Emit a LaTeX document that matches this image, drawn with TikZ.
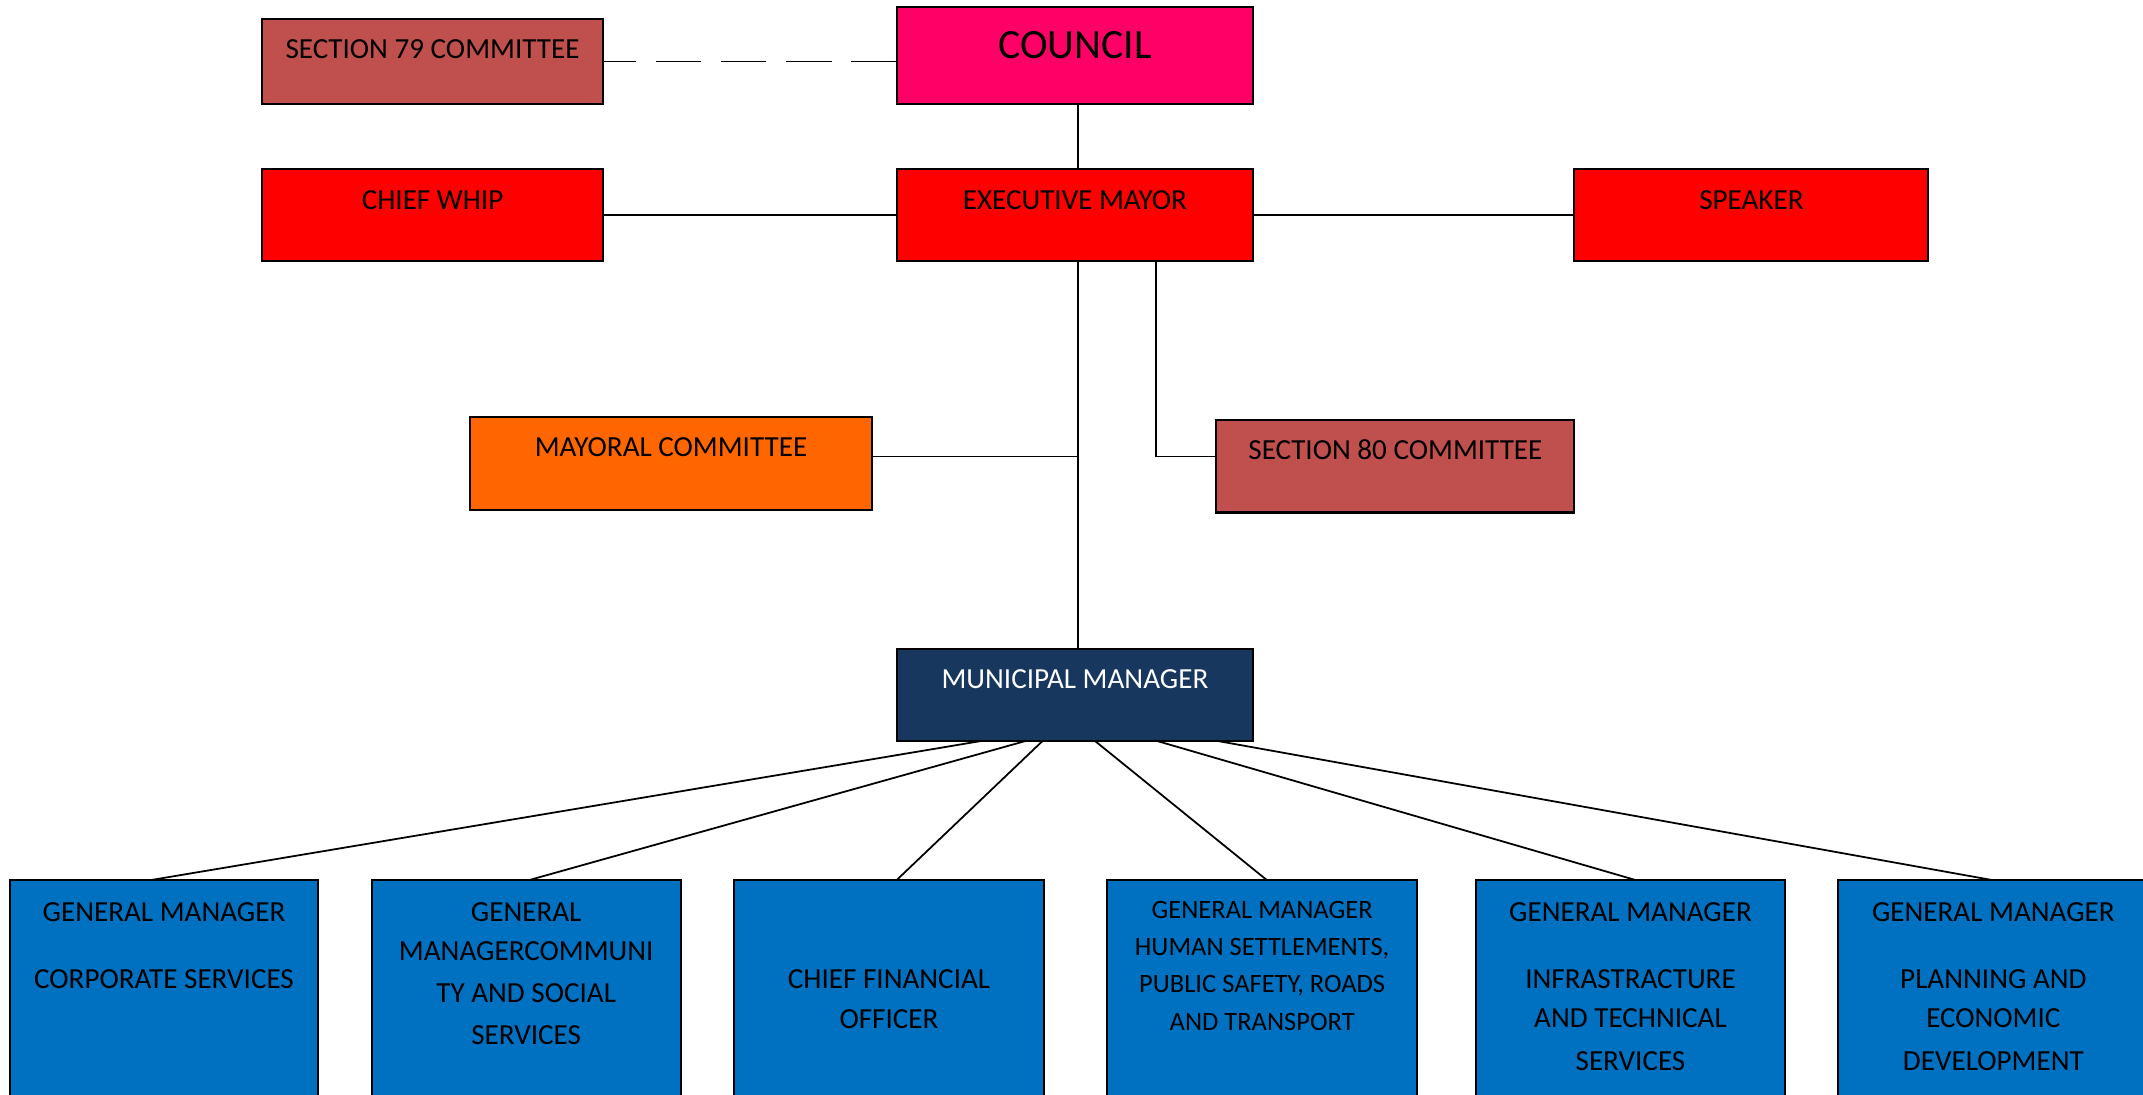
\documentclass[tikz,border=0pt]{standalone}
\usepackage{fontspec}
\setmainfont{Carlito}
\definecolor{secred}{HTML}{C0504D}
\definecolor{councilpink}{HTML}{FF0066}
\definecolor{brightred}{HTML}{FF0000}
\definecolor{mayorange}{HTML}{FF6600}
\definecolor{mmnavy}{HTML}{17375E}
\definecolor{gmblue}{HTML}{0070C0}
\begin{document}
\begin{tikzpicture}[x=0.5pt,y=-0.5pt,
  box/.style={draw=black, line width=0.75pt, inner sep=0pt, outer sep=0pt, rectangle},
  lbl/.style={anchor=base, inner sep=0pt, outer sep=0pt, font=\fontsize{10.65}{12}\selectfont},
  lblsmall/.style={lbl, font=\fontsize{9.7}{11}\selectfont},
  conn/.style={draw=black, line width=0.65pt}]
\clip (0,0) rectangle (1568,800.5);
\fill[white] (0,0) rectangle (1568,800.5);

% top row
\node[box, fill=secred, minimum width=124.5pt, minimum height=31pt] (s79) at (316.5,45) {};
\node[lbl] (s79t) at (316.5,43) {SECTION 79 COMMITTEE};
\node[box, fill=councilpink, minimum width=130.5pt, minimum height=35.5pt] (council) at (786.5,40.5) {};
\node[lbl, font=\fontsize{15.25}{17}\selectfont] (councilt) at (786.5,43) {COUNCIL};

% second row
\node[box, fill=brightred, minimum width=124.5pt, minimum height=33.5pt] (cw) at (316.5,157.5) {};
\node[lbl] (cwt) at (316.5,153) {CHIEF WHIP};
\node[box, fill=brightred, minimum width=130.5pt, minimum height=33.5pt] (em) at (786.5,157.5) {};
\node[lbl] (emt) at (786.5,153) {EXECUTIVE MAYOR};
\node[box, fill=brightred, minimum width=129.5pt, minimum height=33.5pt] (sp) at (1281.5,157.5) {};
\node[lbl] (spt) at (1281.5,153) {SPEAKER};

% committees
\node[box, fill=mayorange, minimum width=147pt, minimum height=34pt] (mc) at (491,339) {};
\node[lbl] (mct) at (491,334) {MAYORAL COMMITTEE};
\node[box, fill=secred, minimum width=131pt, minimum height=34pt] (s80) at (1021,341) {};
\node[lbl] (s80t) at (1021,336) {SECTION 80 COMMITTEE};

% municipal manager
\node[box, fill=mmnavy, minimum width=130.5pt, minimum height=33.5pt] (mm) at (786.5,508.5) {};
\node[lbl, text=white] (mmt) at (786.5,504) {MUNICIPAL MANAGER};

% bottom row
\node[box, fill=gmblue, minimum width=113pt, minimum height=98pt] (b1) at (120,742) {};
\node[box, fill=gmblue, minimum width=113pt, minimum height=98pt] (b2) at (385,742) {};
\node[box, fill=gmblue, minimum width=113.5pt, minimum height=98pt] (b3) at (650.5,742) {};
\node[box, fill=gmblue, minimum width=113.5pt, minimum height=98pt] (b4) at (923.5,742) {};
\node[box, fill=gmblue, minimum width=113pt, minimum height=98pt] (b5) at (1193,742) {};
\node[box, fill=gmblue, minimum width=113.5pt, minimum height=98pt] (b6) at (1458.5,742) {};

\node[lbl] (b1a) at (120,674) {GENERAL MANAGER};
\node[lbl] (b1b) at (120,723) {CORPORATE SERVICES};

\node[lbl] (b2a) at (385,674) {GENERAL};
\node[lbl] (b2b) at (385,703) {MANAGERCOMMUNI};
\node[lbl] (b2c) at (385,733.5) {TY AND SOCIAL};
\node[lbl] (b2d) at (385,764) {SERVICES};

\node[lbl] (b3a) at (650.5,723) {CHIEF FINANCIAL};
\node[lbl] (b3b) at (650.5,752.5) {OFFICER};

\node[lblsmall] (b4a) at (923.5,672) {GENERAL MANAGER};
\node[lblsmall] (b4b) at (923.5,699) {HUMAN SETTLEMENTS,};
\node[lblsmall] (b4c) at (923.5,726) {PUBLIC SAFETY, ROADS};
\node[lblsmall] (b4d) at (923.5,754) {AND TRANSPORT};

\node[lbl] (b5a) at (1193,674) {GENERAL MANAGER};
\node[lbl] (b5b) at (1193,723) {INFRASTRACTURE};
\node[lbl] (b5c) at (1193,752) {AND TECHNICAL};
\node[lbl] (b5d) at (1193,783) {SERVICES};

\node[lbl] (b6a) at (1458.5,674) {GENERAL MANAGER};
\node[lbl] (b6b) at (1458.5,723) {PLANNING AND};
\node[lbl] (b6c) at (1458.5,752) {ECONOMIC};
\node[lbl] (b6d) at (1458.5,783) {DEVELOPMENT};

% connectors
\draw[conn, dash pattern=on 16.5pt off 7.3pt] (council.west |- s79.east) -- (s79.east);
\draw[conn] ([xshift=1.25pt]council.south) -- ([xshift=1.25pt]em.north);
\draw[conn] (cw.east) -- (em.west);
\draw[conn] (em.east) -- (sp.west);
\draw[conn] ([xshift=1.25pt]em.south) -- ([xshift=1.25pt]mm.north);
\coordinate (j1) at (789,334);
\draw[conn] (mc.east |- j1) -- (j1);
\coordinate (j2) at (846,334);
\draw[conn] (em.south -| j2) -- (j2) -- (s80.west |- j2);

\foreach \a/\b/\n in {719/110/b1, 751/387/b2, 763/656/b3, 801/927/b4, 846/1197/b5, 890/1458/b6}{
  \coordinate (ms\n) at (\a,0);
  \coordinate (bt\n) at (\b,0);
  \draw[conn] (mm.south -| ms\n) -- (\n.north -| bt\n);
}
\end{tikzpicture}
\end{document}
